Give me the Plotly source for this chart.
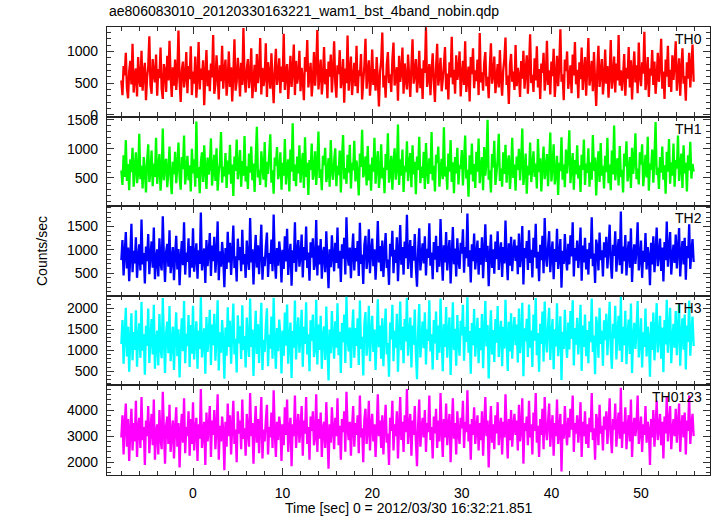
import plotly.graph_objects as go
from plotly.subplots import make_subplots

TITLE = "ae806083010_20120330163221_wam1_bst_4band_nobin.qdp"
X_TITLE = "Time [sec] 0 = 2012/03/30 16:32:21.851"
Y_TITLE = "Counts/sec"
BANDS = ["TH0", "TH1", "TH2", "TH3", "TH0123"]
COLORS = ["#ff0000", "#00ff00", "#0000ff", "#00ffff", "#ff00ff"]

TIME_START = -8.0
TIME_STEP = 0.125

TH0 = [
    540, 310, 770, 620, 980, 420, 260, 690, 850, 480, 1120, 350, 600, 730, 290, 910,
    560, 440, 1010, 380, 670, 820, 230, 590, 760, 1240, 470, 330, 880, 640, 510, 950,
    300, 720, 580, 1060, 410, 250, 800, 690, 360, 930, 540, 1170, 620, 280, 750, 460,
    870, 390, 650, 1330, 520, 200, 710, 840, 430, 600, 990, 340, 770, 560, 1080, 310,
    680, 490, 920, 270, 610, 1150, 400, 730, 550, 860, 150, 640, 1020, 450, 700, 370,
    810, 590, 1260, 330, 480, 940, 620, 240, 780, 530, 1090, 410, 690, 870, 300, 560,
    1000, 440, 750, 210, 630, 1190, 380, 520, 900, 670, 290, 820, 470, 1370, 590, 350,
    720, 880, 420, 610, 1050, 260, 540, 790, 360, 960, 500, 680, 1210, 320, 740, 450,
    590, 1130, 280, 830, 650, 410, 970, 550, 180, 710, 1040, 470, 620, 890, 340, 760,
    520, 1280, 390, 660, 800, 250, 580, 930, 440, 700, 1110, 310, 850, 490, 620, 1010,
    370, 740, 560, 230, 910, 680, 1180, 430, 610, 820, 290, 540, 990, 460, 750, 1340,
    400, 630, 870, 320, 570, 1070, 480, 720, 260, 840, 600, 950, 350, 690, 1160, 510,
    270, 780, 640, 1020, 420, 560, 880, 190, 730, 500, 1250, 380, 660, 920, 310, 590,
    820, 450, 1090, 340, 700, 610, 960, 240, 530, 770, 1200, 410, 650, 860, 300, 580,
    1030, 470, 720, 380, 910, 550, 130, 680, 840, 1300, 430, 620, 270, 790, 990, 500,
    640, 360, 870, 1140, 460, 590, 750, 220, 930, 520, 680, 1060, 330, 810, 570, 400,
    950, 610, 280, 760, 1190, 490, 640, 880, 350, 570, 1010, 420, 730, 250, 860, 660,
    1380, 440, 590, 800, 310, 690, 970, 530, 200, 740, 1120, 460, 620, 900, 370, 560,
    780, 1070, 400, 650, 240, 830, 590, 1230, 480, 710, 330, 940, 550, 680, 1000, 290,
    620, 850, 470, 1160, 360, 580, 760, 210, 910, 640, 1050, 420, 700, 530, 870, 310,
    1290, 510, 670, 380, 820, 990, 450, 600, 260, 750, 1130, 490, 640, 920, 340, 570,
    800, 430, 1020, 560, 300, 710, 880, 1220, 470, 620, 170, 790, 960, 520, 680, 390,
    1100, 450, 740, 610, 280, 850, 570, 1010, 410, 690, 940, 330, 760, 1270, 500, 630,
    360, 890, 540, 1080, 430, 720, 250, 810, 660, 980, 380, 590, 1170, 470, 700, 320,
    840, 610, 1040, 280, 570, 930, 450, 760, 1350, 520, 640, 230, 870, 690, 1000, 410,
    580, 780, 340, 950, 620, 1150, 480, 710, 260, 830, 560, 1060, 390, 680, 910, 300,
    740, 1210, 460, 600, 850, 370, 990, 530, 140, 720, 1090, 440, 650, 880, 320, 560,
    1030, 490, 770, 270, 640, 1180, 410, 590, 920, 350, 810, 540, 1260, 460, 700, 380,
    620, 960, 300, 740, 570, 1070, 430, 860, 240, 690, 1000, 510, 780, 340, 1140, 600,
    450, 830, 650, 1310, 390, 560, 910, 280, 730, 620, 1020, 470, 840, 330, 590, 980,
    520, 760, 1200, 410, 680, 250, 870, 600, 1090, 440, 710, 360, 940, 550, 800, 1160,
    380, 640, 890, 300, 720, 1050, 490, 610, 220, 830, 570, 980, 430, 760, 1110, 520,
]

TH1 = [
    630, 380, 890, 520, 1150, 450, 740, 290, 820, 600, 1020, 350, 680, 940, 410, 570,
    1260, 480, 710, 320, 860, 640, 250, 790, 1080, 430, 600, 970, 360, 750, 520, 1190,
    400, 670, 910, 280, 580, 1350, 460, 730, 830, 340, 620, 1040, 490, 220, 780, 560,
    950, 410, 700, 1110, 530, 300, 860, 650, 1230, 390, 610, 880, 460, 720, 270, 1000,
    580, 820, 350, 1470, 500, 690, 240, 770, 940, 430, 1060, 620, 310, 850, 560, 710,
    1180, 370, 640, 900, 450, 1010, 280, 600, 760, 1290, 420, 690, 530, 930, 330, 800,
    560, 1070, 400, 730, 190, 870, 620, 1160, 480, 660, 980, 350, 790, 540, 1220, 440,
    700, 310, 920, 590, 1040, 460, 750, 260, 830, 1380, 510, 640, 380, 960, 690, 470,
    1120, 340, 780, 570, 900, 1250, 420, 630, 230, 850, 710, 1030, 480, 590, 940, 300,
    760, 540, 1170, 390, 680, 820, 270, 990, 610, 1440, 450, 730, 360, 870, 580, 1060,
    420, 690, 930, 330, 1200, 520, 760, 210, 810, 640, 1090, 470, 600, 960, 380, 740,
    1300, 500, 650, 290, 880, 720, 1020, 430, 560, 840, 350, 1150, 620, 470, 790, 1010,
    360, 710, 550, 970, 250, 830, 1240, 480, 670, 400, 900, 590, 1070, 320, 760, 630,
    1140, 440, 800, 580, 200, 920, 690, 1330, 510, 620, 870, 370, 1050, 460, 730, 280,
    850, 610, 1190, 400, 740, 960, 330, 570, 1080, 490, 680, 240, 910, 640, 1270, 420,
    590, 880, 300, 760, 1010, 470, 650, 1420, 380, 820, 540, 990, 260, 710, 600, 1130,
    450, 730, 930, 340, 1060, 560, 780, 220, 870, 640, 1210, 410, 690, 500, 950, 310,
    1100, 620, 400, 840, 570, 1290, 460, 710, 270, 900, 760, 1040, 350, 650, 830, 480,
    1370, 530, 690, 300, 920, 610, 1150, 430, 770, 240, 860, 580, 1020, 390, 720, 660,
    980, 370, 800, 1230, 490, 640, 180, 890, 560, 1090, 440, 740, 330, 950, 610, 1180,
    410, 700, 860, 290, 1030, 540, 770, 1500, 470, 630, 250, 910, 680, 1140, 380, 590,
    820, 1260, 450, 660, 350, 940, 570, 1070, 420, 750, 890, 310, 620, 1190, 500, 730,
    280, 870, 640, 1000, 460, 790, 1350, 380, 600, 920, 230, 710, 550, 1110, 430, 680,
    960, 520, 750, 320, 1170, 600, 840, 270, 700, 1040, 480, 630, 910, 360, 780, 1280,
    440, 690, 1080, 390, 560, 880, 210, 760, 620, 1200, 470, 730, 340, 990, 580, 850,
    1320, 410, 670, 930, 300, 810, 560, 1060, 490, 720, 260, 900, 640, 1160, 380, 750,
    590, 1010, 350, 770, 470, 1240, 620, 850, 200, 690, 960, 430, 1100, 540, 710, 320,
    880, 600, 1190, 410, 730, 290, 970, 560, 1400, 460, 680, 840, 370, 1050, 520, 640,
    250, 920, 700, 1130, 440, 610, 860, 330, 1020, 570, 790, 1270, 480, 660, 390, 940,
    730, 1080, 360, 620, 900, 510, 1210, 280, 750, 640, 990, 420, 830, 1460, 550, 680,
    310, 860, 590, 1040, 470, 720, 230, 950, 610, 1170, 400, 770, 540, 1090, 350, 810,
    660, 1230, 450, 700, 920, 330, 1060, 580, 760, 270, 890, 630, 1120, 490, 740, 610,
]

TH2 = [
    780, 1210, 450, 920, 1380, 600, 1050, 330, 870, 1560, 520, 980, 710, 1270, 400, 840,
    1120, 560, 1650, 690, 930, 280, 1070, 760, 1340, 480, 890, 1180, 620, 1480, 370, 800,
    1010, 430, 1250, 720, 560, 1720, 850, 310, 960, 1130, 640, 1420, 500, 780, 1060, 350,
    900, 1300, 580, 1020, 240, 830, 1190, 670, 1590, 470, 940, 740, 1250, 410, 1080, 620,
    1460, 530, 870, 1140, 380, 990, 700, 1800, 560, 820, 1030, 290, 1210, 650, 930, 1360,
    440, 1090, 760, 1280, 510, 880, 1610, 350, 970, 640, 1170, 820, 200, 1040, 590, 1390,
    730, 1150, 460, 950, 1520, 610, 860, 320, 1240, 780, 1060, 540, 1430, 690, 910, 400,
    1200, 820, 570, 1680, 730, 1010, 260, 890, 1320, 620, 1100, 480, 960, 1540, 360, 850,
    650, 1070, 1370, 420, 930, 700, 1220, 540, 1760, 800, 380, 1040, 660, 1180, 910, 300,
    1000, 590, 1290, 750, 1450, 460, 870, 1130, 230, 990, 720, 1590, 530, 960, 1210, 640,
    880, 1330, 410, 1060, 780, 1500, 610, 940, 340, 1160, 830, 1250, 570, 700, 1640, 450,
    1090, 690, 1230, 380, 920, 1060, 520, 1400, 760, 180, 1010, 630, 1310, 860, 540, 1150,
    720, 1480, 600, 980, 310, 1120, 810, 1260, 470, 1700, 880, 660, 1050, 390, 940, 1350,
    560, 1040, 750, 1190, 440, 1580, 700, 900, 270, 1110, 1300, 590, 830, 1440, 500, 970,
    1240, 650, 1010, 360, 870, 1620, 730, 1080, 540, 1200, 420, 960, 1360, 610, 790, 250,
    1130, 860, 1410, 500, 1000, 720, 1270, 330, 940, 1530, 680, 1060, 470, 1180, 820, 1750,
    590, 930, 1210, 400, 1080, 770, 1340, 620, 210, 990, 1460, 560, 860, 1140, 710, 1290,
    450, 1020, 830, 1570, 660, 940, 370, 1170, 790, 1300, 520, 1080, 640, 1660, 880, 340,
    1100, 730, 1380, 560, 950, 1210, 280, 870, 1490, 690, 1030, 430, 1250, 780, 590, 1150,
    920, 1440, 510, 1060, 820, 1780, 640, 990, 300, 1120, 760, 1350, 580, 900, 1200, 470,
    1040, 680, 1270, 390, 960, 1550, 740, 1090, 220, 870, 1330, 610, 1010, 490, 1180, 800,
    1400, 570, 930, 1160, 420, 1060, 710, 1630, 850, 350, 1140, 660, 1280, 540, 970, 1220,
    760, 1090, 480, 1350, 630, 900, 1510, 260, 1040, 820, 1190, 570, 1420, 720, 1000, 410,
    1260, 840, 1560, 600, 960, 330, 1110, 780, 1300, 500, 1680, 880, 640, 1070, 1400, 520,
    930, 1180, 370, 1020, 740, 1450, 590, 870, 1230, 190, 980, 700, 1340, 820, 560, 1130,
    690, 1310, 860, 1590, 430, 1040, 770, 1200, 610, 950, 1480, 340, 1090, 730, 1260, 580,
    1010, 470, 1150, 810, 1700, 650, 920, 290, 1220, 1050, 560, 1370, 780, 990, 430, 1160,
    840, 1280, 600, 1000, 1540, 720, 380, 1110, 870, 1400, 530, 960, 1230, 670, 1820, 490,
    1070, 760, 1320, 450, 930, 1180, 620, 1460, 310, 890, 1120, 700, 1010, 1590, 560, 800,
    1200, 400, 980, 740, 1360, 580, 1060, 860, 240, 1150, 690, 1290, 520, 940, 1480, 650,
    910, 1240, 550, 1050, 320, 1170, 780, 1610, 640, 990, 1380, 470, 860, 1110, 720, 1330,
    600, 1010, 1470, 430, 920, 1190, 690, 1260, 360, 1080, 820, 1550, 590, 970, 1230, 740,
]

TH3 = [
    1150, 1720, 680, 1390, 2010, 850, 1560, 490, 1270, 1880, 760, 1430, 1010, 1950, 610, 1320,
    1640, 820, 2150, 990, 1380, 420, 1580, 1100, 1990, 700, 1290, 1740, 900, 2080, 560, 1200,
    1470, 640, 1860, 1060, 810, 2240, 1250, 460, 1420, 1680, 930, 2050, 740, 1160, 1560, 530,
    1350, 1900, 860, 1500, 350, 1230, 1760, 980, 2170, 690, 1390, 1100, 1840, 600, 1600, 920,
    2060, 780, 1280, 1690, 560, 1470, 1030, 2260, 830, 1210, 1520, 440, 1790, 960, 1370, 1960,
    650, 1610, 1120, 1870, 750, 1300, 2190, 520, 1430, 940, 1720, 1200, 320, 1540, 870, 2020,
    1080, 1700, 680, 1400, 2110, 900, 1270, 470, 1830, 1160, 1570, 790, 2070, 1010, 1340, 590,
    1780, 1210, 840, 2230, 1080, 1490, 390, 1310, 1940, 910, 1620, 700, 1420, 2130, 530, 1250,
    960, 1580, 2000, 620, 1370, 1040, 1800, 800, 2250, 1180, 560, 1530, 980, 1730, 1340, 450,
    1470, 870, 1900, 1110, 2090, 680, 1280, 1660, 340, 1460, 1060, 2180, 780, 1410, 1780, 940,
    1300, 1960, 610, 1560, 1150, 2140, 900, 1380, 500, 1710, 1220, 1850, 840, 1030, 2200, 660,
    1610, 1010, 1820, 560, 1360, 1570, 770, 2040, 1120, 280, 1490, 930, 1930, 1260, 800, 1690,
    1060, 2120, 880, 1440, 460, 1650, 1190, 1850, 700, 2270, 1290, 970, 1540, 580, 1390, 1970,
    820, 1530, 1100, 1760, 650, 2180, 1030, 1320, 400, 1630, 1910, 870, 1220, 2060, 740, 1430,
    1820, 960, 1490, 530, 1280, 2210, 1070, 1590, 800, 1760, 620, 1410, 1990, 900, 1170, 370,
    1660, 1260, 2080, 740, 1470, 1060, 1870, 490, 1380, 2160, 1000, 1560, 690, 1740, 1210, 2250,
    870, 1370, 1780, 590, 1590, 1130, 1970, 920, 310, 1460, 2100, 830, 1260, 1680, 1050, 1900,
    660, 1500, 1220, 2190, 970, 1380, 540, 1720, 1160, 1920, 770, 1590, 940, 2230, 1290, 500,
    1620, 1080, 2030, 820, 1400, 1780, 410, 1280, 2140, 1010, 1510, 630, 1840, 1150, 870, 1700,
    1350, 2080, 750, 1560, 1200, 2260, 940, 1460, 440, 1650, 1120, 1980, 850, 1320, 1770, 690,
    1530, 1000, 1860, 570, 1410, 2170, 1090, 1600, 330, 1280, 1950, 900, 1480, 720, 1740, 1180,
    2050, 840, 1370, 1700, 620, 1560, 1040, 2200, 1250, 510, 1680, 970, 1880, 800, 1430, 1790,
    1120, 1610, 710, 1990, 930, 1320, 2130, 380, 1520, 1210, 1750, 840, 2090, 1060, 1470, 600,
    1850, 1230, 2240, 880, 1410, 490, 1630, 1150, 1920, 730, 2160, 1290, 950, 1580, 2010, 770,
    1370, 1740, 550, 1500, 1090, 2120, 860, 1280, 1810, 290, 1440, 1030, 1960, 1210, 820, 1660,
    1020, 1930, 1270, 2190, 640, 1530, 1130, 1770, 900, 1400, 2080, 510, 1590, 1080, 1850, 860,
    1480, 690, 1690, 1190, 2230, 960, 1350, 430, 1800, 1540, 820, 2010, 1150, 1460, 630, 1710,
    1240, 1870, 880, 1470, 2150, 1060, 560, 1630, 1280, 2060, 780, 1410, 1820, 990, 2270, 720,
    1560, 1120, 1940, 670, 1370, 1730, 910, 2110, 460, 1310, 1650, 1030, 1490, 2170, 830, 1190,
    1760, 590, 1430, 1080, 1990, 850, 1560, 1260, 370, 1680, 1010, 1900, 760, 1390, 2120, 950,
    1330, 1820, 800, 1540, 480, 1720, 1140, 2200, 940, 1450, 2010, 690, 1270, 1630, 1060, 1930,
    880, 1490, 2090, 630, 1360, 1760, 1010, 1850, 540, 1590, 1200, 2180, 870, 1420, 1800, 1100,
]

TH0123 = [
    2950, 3800, 2300, 3450, 4250, 2600, 3650, 2050, 3200, 4050, 2450, 3500, 2800, 4350, 2200, 3300,
    3700, 2550, 4500, 2850, 3350, 1900, 3600, 3000, 4150, 2350, 3250, 3850, 2650, 4400, 2100, 3150,
    3450, 2300, 4000, 2900, 2500, 4700, 3250, 1950, 3400, 3750, 2700, 4200, 2400, 3100, 3600, 2150,
    3300, 4100, 2600, 3500, 1800, 3200, 3850, 2750, 4450, 2350, 3350, 3000, 3950, 2250, 3650, 2700,
    4300, 2450, 3250, 3700, 2050, 3450, 2900, 4800, 2550, 3150, 3550, 1900, 3900, 2800, 3300, 4150,
    2200, 3600, 3050, 4000, 2500, 3300, 4600, 2100, 3400, 2800, 3750, 3200, 1700, 3550, 2600, 4250,
    3000, 3800, 2300, 3350, 4350, 2700, 3250, 2000, 3950, 3100, 3600, 2500, 4400, 2900, 3300, 2250,
    3850, 3200, 2600, 4650, 3000, 3500, 1950, 3300, 4150, 2750, 3650, 2350, 3400, 4500, 2150, 3250,
    2800, 3600, 4200, 2300, 3350, 2950, 3900, 2550, 4750, 3150, 2200, 3550, 2850, 3750, 3350, 2050,
    3450, 2650, 4100, 3050, 4400, 2400, 3250, 3700, 1850, 3450, 3000, 4550, 2550, 3350, 3850, 2750,
    3300, 4150, 2250, 3600, 3100, 4500, 2700, 3350, 2100, 3750, 3200, 3950, 2650, 2950, 4600, 2400,
    3650, 2900, 3900, 2200, 3300, 3550, 2550, 4300, 3100, 1750, 3450, 2750, 4100, 3250, 2500, 3700,
    3000, 4450, 2650, 3400, 2100, 3650, 3150, 3950, 2400, 4700, 3300, 2850, 3550, 2250, 3350, 4150,
    2600, 3500, 3050, 3800, 2350, 4550, 2950, 3300, 2000, 3650, 4050, 2700, 3200, 4350, 2450, 3400,
    3850, 2800, 3450, 2200, 3250, 4600, 3000, 3600, 2550, 3800, 2300, 3350, 4200, 2750, 3100, 1900,
    3700, 3200, 4350, 2450, 3450, 3000, 3950, 2150, 3350, 4500, 2850, 3550, 2400, 3800, 3150, 4800,
    2700, 3350, 3850, 2250, 3600, 3050, 4150, 2800, 1850, 3450, 4400, 2600, 3250, 3700, 2950, 4000,
    2400, 3500, 3150, 4550, 2850, 3350, 2150, 3750, 3100, 4050, 2550, 3600, 2800, 4650, 3250, 2200,
    3650, 2950, 4250, 2650, 3400, 3850, 2000, 3250, 4450, 2900, 3500, 2300, 3950, 3100, 2700, 3700,
    3300, 4350, 2550, 3550, 3150, 4750, 2800, 3450, 2100, 3650, 3050, 4100, 2700, 3300, 3800, 2450,
    3500, 2850, 3950, 2250, 3400, 4500, 3000, 3600, 1800, 3250, 4150, 2750, 3450, 2500, 3800, 3100,
    4300, 2650, 3350, 3700, 2300, 3550, 2950, 4600, 3250, 2150, 3650, 2850, 4000, 2600, 3400, 3850,
    3050, 3600, 2450, 4200, 2800, 3300, 4450, 1950, 3500, 3200, 3750, 2650, 4350, 2950, 3450, 2300,
    3900, 3200, 4650, 2750, 3400, 2200, 3650, 3050, 4050, 2500, 4500, 3300, 2850, 3550, 4250, 2600,
    3350, 3800, 2250, 3500, 3000, 4400, 2700, 3250, 3850, 1650, 3450, 2900, 4150, 3200, 2650, 3700,
    2950, 4050, 3250, 4550, 2400, 3500, 3100, 3800, 2750, 3350, 4300, 2200, 3550, 3000, 3950, 2700,
    3450, 2550, 3700, 3150, 4650, 2850, 3300, 2100, 3850, 3550, 2650, 4200, 3100, 3400, 2450, 3750,
    3250, 3950, 2700, 3450, 4450, 3000, 2350, 3650, 3250, 4250, 2600, 3400, 3900, 2900, 4850, 2550,
    3550, 3100, 4100, 2500, 3350, 3800, 2800, 4400, 2200, 3300, 3700, 3000, 3450, 4550, 2700, 3150,
    3750, 2400, 3450, 3050, 4150, 2750, 3550, 3250, 1900, 3650, 2950, 4000, 2600, 3350, 4350, 2850,
    3300, 3850, 2650, 3550, 2150, 3750, 3100, 4500, 2800, 3450, 4150, 2500, 3250, 3650, 3000, 4050,
    2750, 3450, 4250, 2400, 3350, 3800, 2950, 3900, 2300, 3600, 3200, 4550, 2700, 3400, 3850, 3000,
]

SERIES = [TH0, TH1, TH2, TH3, TH0123]
Y_RANGES = [[-30, 1386], [15, 1555], [15, 1936], [164, 2295], [1514, 4941]]
Y_DTICK = [500, 500, 500, 500, 1000]
Y_MINOR = [100, 100, 100, 100, 200]
X_RANGE = [-9.6, 57.7]

FONT = "Liberation Sans, Arial, Helvetica, sans-serif"

fig = make_subplots(rows=5, cols=1, shared_xaxes=True, vertical_spacing=0)

for i, (vals, col) in enumerate(zip(SERIES, COLORS)):
    t = [TIME_START + k * TIME_STEP for k in range(len(vals))]
    fig.add_trace(
        go.Scatter(x=t, y=vals, mode="lines",
                   line=dict(color=col, width=2.3, simplify=False),
                   showlegend=False, hoverinfo="skip"),
        row=i + 1, col=1,
    )

axis_common = dict(
    showline=True, linecolor="#222222", linewidth=1.3, mirror="ticks",
    ticks="inside", ticklen=7, tickwidth=1, tickcolor="#333333",
    showgrid=False, zeroline=False, automargin=False,
    tickfont=dict(family=FONT, size=14, color="black"),
)

for i in range(5):
    fig.update_xaxes(
        range=X_RANGE, dtick=10, tick0=0,
        minor=dict(dtick=2, tick0=0, ticks="inside", ticklen=4,
                   tickcolor="#333333", showgrid=False),
        showticklabels=(i == 4), ticklabelstandoff=5,
        row=i + 1, col=1, **axis_common,
    )
    fig.update_yaxes(
        range=Y_RANGES[i], dtick=Y_DTICK[i], tick0=0,
        minor=dict(dtick=Y_MINOR[i], tick0=0, ticks="inside", ticklen=4,
                   tickcolor="#333333", showgrid=False),
        ticklabelstandoff=5,
        row=i + 1, col=1, **axis_common,
    )

annotations = [
    dict(text=TITLE, xref="paper", yref="paper", x=0, y=1, xanchor="left",
         yanchor="bottom", yshift=6, showarrow=False,
         font=dict(family=FONT, size=14, color="black")),
    dict(text=Y_TITLE, xref="paper", yref="paper", x=0, y=0.5, xanchor="center",
         yanchor="middle", xshift=-65, textangle=-90, showarrow=False,
         font=dict(family=FONT, size=14, color="black")),
    dict(text=X_TITLE, xref="paper", yref="paper", x=0.5, y=0, xanchor="center",
         yanchor="middle", yshift=-33, showarrow=False,
         font=dict(family=FONT, size=14, color="black")),
]
for i, name in enumerate(BANDS):
    annotations.append(
        dict(text=name, xref="paper", yref=f"y{'' if i == 0 else i + 1} domain",
             x=0.99, y=1, xanchor="right", yanchor="top", yshift=-2,
             showarrow=False, font=dict(family=FONT, size=14, color="black"))
    )

fig.update_layout(
    width=717, height=516,
    margin=dict(l=107, r=7, t=27, b=41),
    paper_bgcolor="white", plot_bgcolor="white",
    annotations=annotations,
    font=dict(family=FONT, size=14, color="black"),
)

# remove the default 8px page margin so the figure fills the window exactly
fig.write_html(
    "out.html",
    config={"displayModeBar": False},
    post_script="document.body.style.margin='0';document.body.style.overflow='hidden';",
)
